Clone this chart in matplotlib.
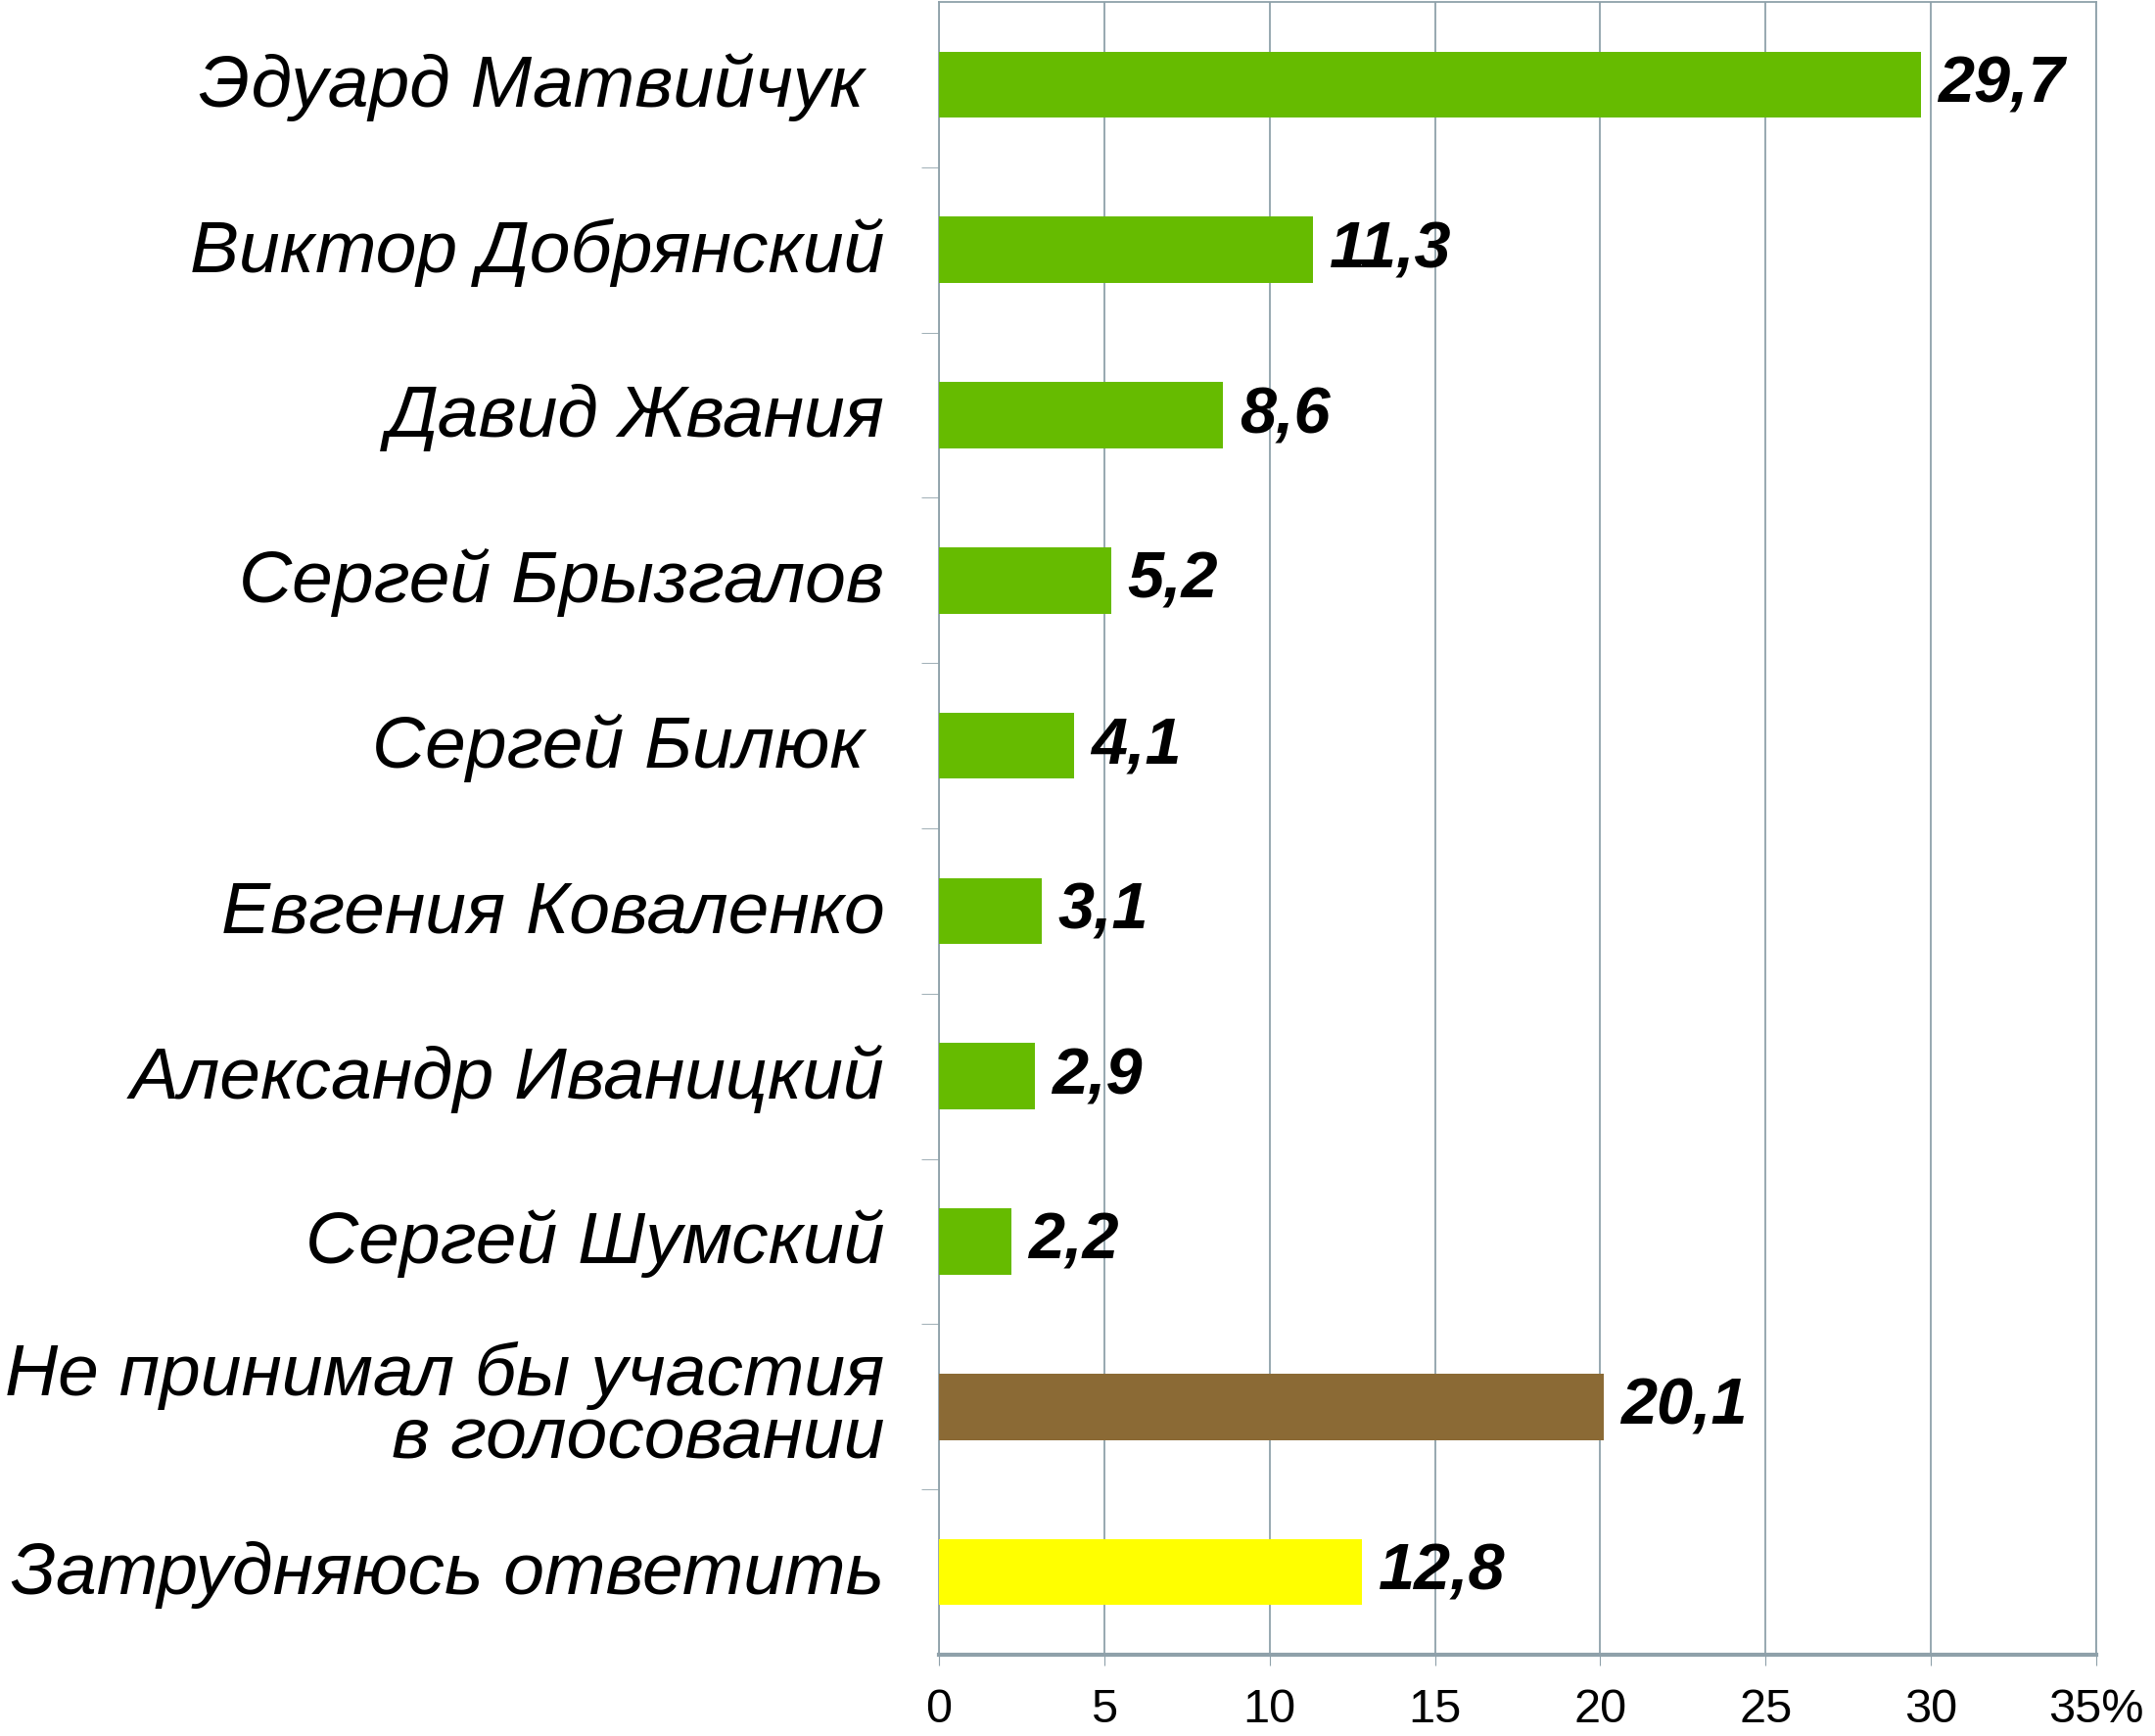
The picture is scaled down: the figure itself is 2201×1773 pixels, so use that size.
import matplotlib
matplotlib.use('Agg')
import matplotlib.pyplot as plt
from matplotlib import font_manager
from matplotlib.transforms import ScaledTranslation

# poll results, top to bottom
names = ['Эдуард Матвийчук ', 'Виктор Добрянский', 'Давид Жвания',
         'Сергей Брызгалов', 'Сергей Билюк ', 'Евгения Коваленко',
         'Александр Иваницкий', 'Сергей Шумский',
         'Не принимал бы участия\nв голосовании', 'Затрудняюсь ответить']
values = [29.7, 11.3, 8.6, 5.2, 4.1, 3.1, 2.9, 2.2, 20.1, 12.8]
value_labels = ['29,7', '11,3', '8,6', '5,2', '4,1', '3,1', '2,9', '2,2',
                '20,1', '12,8']
colors = ['#66bb00'] * 8 + ['#8b6a35', '#ffff00']
xticks = [0, 5, 10, 15, 20, 25, 30, 35]
xtick_labels = ['0', '5', '10', '15', '20', '25', '30', '35%']

installed = set(f.name for f in font_manager.fontManager.ttflist)
narrow = 'Liberation Sans Narrow' if 'Liberation Sans Narrow' in installed \
    else 'Liberation Sans'

grid_col = '#8fa1aa'

fig = plt.figure(figsize=(22.01, 17.74), dpi=100)
ax = fig.add_axes([0.4357, 0.0468, 0.5370, 0.9515])

pos = list(range(len(values)))
ax.barh(pos, values, height=0.4, color=colors, zorder=3)
ax.set_ylim(len(values) - 0.5, -0.5)
ax.set_xlim(0, 35)

ax.set_xticks(xticks)
ax.set_xticklabels(xtick_labels, fontfamily=narrow, fontsize=35)
ax.tick_params(axis='x', length=8, color=grid_col, pad=16)
ax.xaxis.grid(True, color=grid_col, linewidth=1.3, zorder=0)

ax.set_yticks(pos)
ax.set_yticklabels(names, fontfamily='Liberation Sans', fontstyle='italic',
                   fontsize=54, linespacing=0.92)
ax.tick_params(axis='y', which='major', length=0, pad=40)
ax.set_yticks([p + 0.5 for p in pos[:-1]], minor=True)
ax.tick_params(axis='y', which='minor', length=13, color=grid_col)
# names sit a little above the bar centres
shift = ScaledTranslation(0, 0.06, fig.dpi_scale_trans)
for lab in ax.get_yticklabels():
    lab.set_transform(lab.get_transform() + shift)

for s in ax.spines.values():
    s.set_color(grid_col)
    s.set_linewidth(1.3)
ax.spines['bottom'].set_linewidth(3)

for p, v, lab in zip(pos, values, value_labels):
    ax.text(v + 0.5, p, lab, va='center', ha='left', fontfamily=narrow,
            fontweight='bold', fontstyle='italic', fontsize=48)

fig.savefig('out.png', dpi=100)
